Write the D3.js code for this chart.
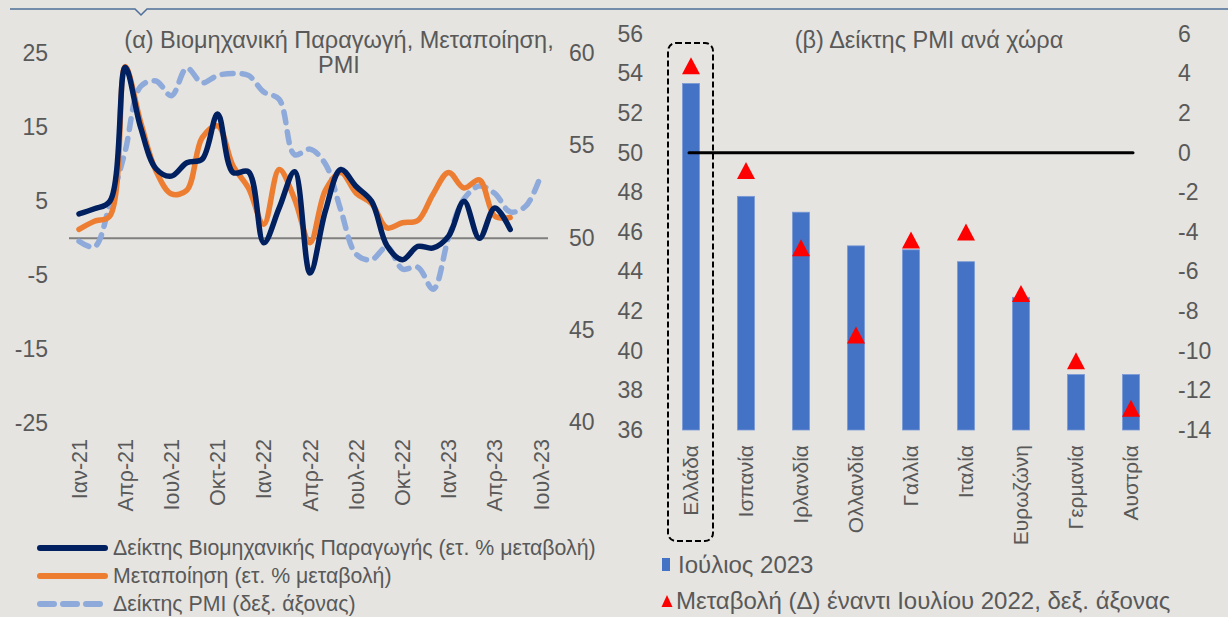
<!DOCTYPE html>
<html>
<head>
<meta charset="utf-8">
<script src="https://cdn.jsdelivr.net/npm/d3@7"></script>
<style>
  html, body { margin: 0; padding: 0; background: #e5e4e0; }
  svg { display: block; font-family: "Liberation Sans", Arial, sans-serif; }
  .axis text { fill: #595959; }
</style>
</head>
<body>
<div id="chart"></div>
<script>
// Left panel data: monthly, Jan-21 .. Jul-23
const monthTicks = ["Ιαν-21", "Απρ-21", "Ιουλ-21", "Οκτ-21", "Ιαν-22", "Απρ-22",
  "Ιουλ-22", "Οκτ-22", "Ιαν-23", "Απρ-23", "Ιουλ-23"];

const industrialProduction = [3.3, 4.0, 5.0, 23.1, 15.0, 9.4, 8.4, 10.2, 10.7, 16.8,
  8.9, 9.0, -0.6, 4.1, 9.0, -4.7, 3.7, 9.3, 7.0, 5.0, -1.0, -2.9, -1.1, -1.3, 0.3,
  5.0, 0.0, 4.1, 1.2];

const manufacturing = [1.2, 2.3, 3.0, 23.2, 15.7, 9.1, 6.0, 6.5, 13.6, 15.2,
  9.8, 6.8, 1.9, 9.3, 5.3, -0.6, 6.5, 8.9, 6.1, 4.7, 1.4, 2.1, 2.4, 6.0, 8.9,
  6.8, 7.9, 3.0, 2.8];

const pmiMonthly = [49.8, 49.5, 51.8, 54.7, 58.2, 58.5, 57.7, 59.2, 58.4, 58.8,
  58.9, 58.8, 57.9, 57.5, 54.5, 54.8, 54.0, 51.5, 49.1, 48.8, 49.5, 48.3, 48.4,
  47.2, 50.0, 52.1, 52.8, 52.4, 51.4, 51.7, 53.4];

const leftTicks = [25, 15, 5, -5, -15, -25];
const rightTicks = [60, 55, 50, 45, 40];

// Right panel data: PMI per country
const countries = ["Ελλάδα", "Ισπανία", "Ιρλανδία", "Ολλανδία", "Γαλλία", "Ιταλία",
  "Ευρωζώνη", "Γερμανία", "Αυστρία"];
const pmiJuly2023 = [53.5, 47.8, 47.0, 45.3, 45.1, 44.5, 42.7, 38.8, 38.8];
const changeVsJuly2022 = [4.4, -0.9, -4.8, -9.2, -4.4, -4.0, -7.1, -10.5, -12.9];
const pmiLeftTicks = [36, 38, 40, 42, 44, 46, 48, 50, 52, 54, 56];
const pmiRightTicks = [-14, -12, -10, -8, -6, -4, -2, 0, 2, 4, 6];

const W = 1228, H = 617;
const textColor = "#595959";
const plain = d => String(d);   // keep hyphen-minus like the original

const svg = d3.select("#chart").append("svg")
  .attr("width", W).attr("height", H);

svg.append("rect").attr("width", W).attr("height", H).attr("fill", "#e5e4e0");

// top rule with little notch
svg.append("path")
  .attr("d", "M10,9 L135,9 L141,15 L147,9 L1228,9")
  .attr("fill", "none").attr("stroke", "#4d6f98").attr("stroke-width", 1.5);

function axisStyle(g, size) {
  g.select(".domain").remove();
  g.selectAll("text").style("font-size", size + "px").attr("font-family", null);
}

// ---------- panel (α) ----------
const x = d3.scaleLinear().domain([0, 30]).range([79, 541]);
const yL = d3.scaleLinear().domain([-25, 25]).range([423.3, 53.3]);
const yR = d3.scaleLinear().domain([40, 60]).range([422, 53.3]);

const titleA = svg.append("text")
  .attr("x", 339).attr("y", 48)
  .attr("text-anchor", "middle")
  .attr("fill", textColor)
  .style("font-size", "23.5px");
titleA.append("tspan").attr("x", 339).text("(α) Βιομηχανική Παραγωγή, Μεταποίηση,");
titleA.append("tspan").attr("x", 339).attr("dy", 25).text("PMI");

svg.append("g").attr("class", "axis")
  .attr("transform", "translate(48,0)")
  .call(d3.axisLeft(yL).tickValues(leftTicks).tickFormat(plain).tickSize(0).tickPadding(0))
  .call(axisStyle, 23);

svg.append("g").attr("class", "axis")
  .attr("transform", "translate(569,0)")
  .call(d3.axisRight(yR).tickValues(rightTicks).tickFormat(plain).tickSize(0).tickPadding(0))
  .call(axisStyle, 23);

// zero line
svg.append("line")
  .attr("x1", 69).attr("x2", 548)
  .attr("y1", yL(0)).attr("y2", yL(0))
  .attr("stroke", "#7f7f7f").attr("stroke-width", 2);

// x tick labels (rotated)
svg.append("g").selectAll("text")
  .data(monthTicks)
  .join("text")
  .attr("transform", (d, i) => `translate(${x(i * 3)},439) rotate(-90)`)
  .attr("dy", "0.35em")
  .attr("text-anchor", "end")
  .attr("fill", textColor)
  .style("font-size", "21.5px")
  .text(d => d);

const curve = d3.curveCatmullRom.alpha(0.5);

svg.append("path")
  .datum(pmiMonthly)
  .attr("d", d3.line().x((d, i) => x(i)).y(d => yR(d)).curve(curve))
  .attr("fill", "none").attr("stroke", "#8eaadb").attr("stroke-width", 5.5)
  .attr("stroke-dasharray", "11,9").attr("stroke-linecap", "round");

svg.append("path")
  .datum(manufacturing)
  .attr("d", d3.line().x((d, i) => x(i)).y(d => yL(d)).curve(curve))
  .attr("fill", "none").attr("stroke", "#ed7d31").attr("stroke-width", 5.5)
  .attr("stroke-linecap", "round").attr("stroke-linejoin", "round");

svg.append("path")
  .datum(industrialProduction)
  .attr("d", d3.line().x((d, i) => x(i)).y(d => yL(d)).curve(curve))
  .attr("fill", "none").attr("stroke", "#002060").attr("stroke-width", 5.5)
  .attr("stroke-linecap", "round").attr("stroke-linejoin", "round");

// left legend
const legendA = [
  { label: "Δείκτης Βιομηχανικής Παραγωγής (ετ. % μεταβολή)", color: "#002060", dash: null },
  { label: "Μεταποίηση (ετ. % μεταβολή)", color: "#ed7d31", dash: null },
  { label: "Δείκτης PMI (δεξ. άξονας)", color: "#8eaadb", dash: "14,9" }
];
const legA = svg.append("g").selectAll("g").data(legendA).join("g")
  .attr("transform", (d, i) => `translate(0,${548 + i * 28})`);
legA.append("line")
  .attr("x1", 40).attr("x2", 105)
  .attr("stroke", d => d.color).attr("stroke-width", 6)
  .attr("stroke-linecap", "round")
  .attr("stroke-dasharray", d => d.dash);
legA.append("text")
  .attr("x", 113).attr("dy", "0.35em")
  .attr("fill", textColor).style("font-size", "21.3px")
  .text(d => d.label);

// ---------- panel (β) ----------
const xb = d3.scaleBand().domain(countries).range([663.5, 1158.5])
  .paddingInner(0.69).paddingOuter(0.345);
const yb = d3.scaleLinear().domain([36, 56]).range([430, 34]);
const yb2 = d3.scaleLinear().domain([-14, 6]).range([430, 34]);

svg.append("text")
  .attr("x", 929).attr("y", 48)
  .attr("text-anchor", "middle")
  .attr("fill", textColor).style("font-size", "23.5px")
  .text("(β) Δείκτης PMI ανά χώρα");

svg.append("g").attr("class", "axis")
  .attr("transform", "translate(643,0)")
  .call(d3.axisLeft(yb).tickValues(pmiLeftTicks).tickFormat(plain).tickSize(0).tickPadding(0))
  .call(axisStyle, 23);

svg.append("g").attr("class", "axis")
  .attr("transform", "translate(1178,0)")
  .call(d3.axisRight(yb2).tickValues(pmiRightTicks).tickFormat(plain).tickSize(0).tickPadding(0))
  .call(axisStyle, 23);

const barData = countries.map((c, i) => ({ c, v: pmiJuly2023[i], d: changeVsJuly2022[i] }));

svg.append("g").selectAll("rect")
  .data(barData)
  .join("rect")
  .attr("x", d => xb(d.c))
  .attr("y", d => yb(d.v))
  .attr("width", xb.bandwidth())
  .attr("height", d => yb(36) - yb(d.v))
  .attr("fill", "#4472c4")
  .attr("stroke", "#7a9ad6").attr("stroke-width", 0.8);

// 50-line
const cx = c => xb(c) + xb.bandwidth() / 2;
svg.append("line")
  .attr("x1", cx(countries[0]) - 2).attr("x2", cx(countries[countries.length - 1]) + 2)
  .attr("y1", yb(50)).attr("y2", yb(50))
  .attr("stroke", "#000").attr("stroke-width", 3).attr("stroke-linecap", "round");

// triangles
const tri = (px, py, w, h) => `M${px - w / 2},${py + h / 2}L${px},${py - h / 2}L${px + w / 2},${py + h / 2}Z`;
svg.append("g").selectAll("path")
  .data(barData)
  .join("path")
  .attr("d", d => tri(cx(d.c), yb2(d.d), 18, 17))
  .attr("fill", "#ff0000");

// dashed highlight box around Greece
svg.append("rect")
  .attr("x", cx(countries[0]) - 23).attr("y", 43)
  .attr("width", 45).attr("height", 498)
  .attr("rx", 8).attr("ry", 8)
  .attr("fill", "none").attr("stroke", "#000")
  .attr("stroke-width", 2).attr("stroke-dasharray", "6,3");

// country labels
svg.append("g").selectAll("text")
  .data(countries)
  .join("text")
  .attr("transform", d => `translate(${cx(d)},445) rotate(-90)`)
  .attr("dy", "0.35em")
  .attr("text-anchor", "end")
  .attr("fill", textColor).style("font-size", "21px")
  .text(d => d);

// right legend
svg.append("rect").attr("x", 662).attr("y", 558).attr("width", 8).attr("height", 13)
  .attr("fill", "#4472c4");
svg.append("text").attr("x", 678).attr("y", 565).attr("dy", "0.35em")
  .attr("fill", textColor).style("font-size", "24px").text("Ιούλιος 2023");
svg.append("path").attr("d", tri(667, 601, 11, 12)).attr("fill", "#ff0000");
svg.append("text").attr("x", 676).attr("y", 601).attr("dy", "0.35em")
  .attr("fill", textColor).style("font-size", "24px")
  .text("Μεταβολή (Δ) έναντι Ιουλίου 2022, δεξ. άξονας");
</script>
</body>
</html>
